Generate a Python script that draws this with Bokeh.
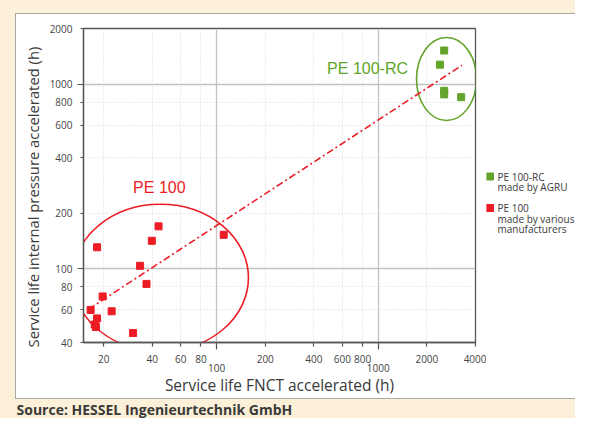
from bokeh.plotting import figure
from bokeh.layouts import column, row
from bokeh.models import (FixedTicker, LogAxis, Grid, Label, Range1d, NumeralTickFormatter)
from bokeh.core.properties import value
from bokeh.embed import file_html
from bokeh.resources import INLINE

# ---------------- data ----------------
pe100_fnct = [18.2, 43.7, 39.7, 33.6, 36.8, 19.7, 16.6, 22.4, 18.2, 17.6, 17.9, 30.4, 110.6]
pe100_pressure = [131, 170, 142, 104, 83, 71, 60, 59, 54, 50, 48.5, 45, 153]
pe100rc_fnct = [2560, 2410, 2560, 2560, 3260]
pe100rc_pressure = [1520, 1275, 920, 880, 850]
trend_fnct = [16.1, 3300]
trend_pressure = [60.5, 1265]
x_ticks = [20, 40, 60, 80, 100, 200, 400, 600, 800, 1000, 2000, 4000]
y_ticks = [40, 60, 80, 100, 200, 400, 600, 800, 1000, 2000]
major_lines = [100, 1000]
legend_lines = [["PE 100-RC", "made by AGRU"], ["PE 100", "made by various", "manufacturers"]]
source_text = "Source: HESSEL Ingenieurtechnik GmbH"

RED = "#ec1c24"
GREEN = "#62a52a"
CREAM = "#fcf1d8"
TXT = "#3a3a3a"

CH_H = 384  # chart panel height

p = figure(width=470, height=CH_H, x_axis_type="log", y_axis_type="log",
           x_range=Range1d(15, 4000), y_range=Range1d(40, 2000),
           x_axis_location=None, y_axis_location=None, title=None,
           output_backend="svg", toolbar_location=None,
           min_border_left=67, min_border_top=14, min_border_right=11, min_border_bottom=55)
p.border_fill_color = "white"
p.background_fill_color = "white"
p.outline_line_color = "#555555"
p.outline_line_width = 1.3
p.grid.visible = False

# grids
minor_x = [t for t in x_ticks if t not in major_lines and t != 4000]
minor_y = [t for t in y_ticks if t not in major_lines and t not in (40, 2000)]
p.add_layout(Grid(dimension=0, ticker=FixedTicker(ticks=minor_x), grid_line_color="#d9d9d9",
                  grid_line_dash="1 2", grid_line_width=1))
p.add_layout(Grid(dimension=1, ticker=FixedTicker(ticks=minor_y), grid_line_color="#d9d9d9",
                  grid_line_dash="1 2", grid_line_width=1))
p.add_layout(Grid(dimension=0, ticker=FixedTicker(ticks=major_lines), grid_line_color="#c2c2c2",
                  grid_line_width=1.3))
p.add_layout(Grid(dimension=1, ticker=FixedTicker(ticks=major_lines), grid_line_color="#c2c2c2",
                  grid_line_width=1.3))

# axes
fmt = NumeralTickFormatter(format="0")
yax = LogAxis(ticker=FixedTicker(ticks=y_ticks, minor_ticks=major_lines), formatter=fmt,
              axis_label="Service life internal pressure accelerated (h)" + "\u00a0" * 6)
yax.major_tick_out = 3
yax.major_tick_in = 0
yax.minor_tick_out = 6
yax.minor_tick_in = 0
yax.major_label_standoff = 5
yax.axis_label_standoff = 4
yax.axis_label_text_font_size = "14.8px"

xax1 = LogAxis(ticker=FixedTicker(ticks=[t for t in x_ticks if t not in major_lines], minor_ticks=major_lines),
               formatter=fmt)
xax1.major_tick_out = 4
xax1.major_tick_in = 0
xax1.minor_tick_out = 7
xax1.minor_tick_in = 0
xax1.major_label_standoff = 5

xax2 = LogAxis(ticker=FixedTicker(ticks=major_lines, minor_ticks=[]), formatter=fmt,
               axis_label="Service life FNCT accelerated (h)")
xax2.axis_line_color = None
xax2.major_tick_line_color = None
xax2.minor_tick_line_color = None
xax2.major_tick_out = 0
xax2.major_tick_in = 0
xax2.minor_tick_out = 0
xax2.minor_tick_in = 0
xax2.major_label_standoff = -2
xax2.axis_label_standoff = -1
xax2.axis_label_text_font_size = "15.5px"

for ax in (yax, xax1, xax2):
    ax.major_label_text_font = "Open Sans"
    ax.major_label_text_font_size = "10px"
    ax.major_label_text_color = "#444444"
    ax.axis_label_text_font = "Open Sans"
    ax.axis_label_text_font_style = "normal"
    ax.axis_label_text_color = TXT
for ax in (yax, xax1):
    ax.axis_line_color = "#555555"
    ax.axis_line_width = 1.3
    ax.major_tick_line_color = "#555555"
    ax.minor_tick_line_color = "#555555"
    ax.major_tick_line_width = 1.2
    ax.minor_tick_line_width = 1.2

p.add_layout(yax, "left")
p.add_layout(xax1, "below")
p.add_layout(xax2, "below")

# ellipses
p.ellipse(x=[44.9], y=[89.6], width=176, height=147, width_units="screen", height_units="screen",
          fill_color=None, line_color=RED, line_width=1.6)
p.ellipse(x=[2646], y=[1066], width=60, height=83, width_units="screen", height_units="screen",
          fill_color=None, line_color=GREEN, line_width=1.6)

# trend line
p.line(trend_fnct, trend_pressure, line_color=RED, line_width=1.6, line_dash="7 3 2 3")

# points
p.scatter(pe100_fnct, pe100_pressure, marker="square", size=7, color=RED)
p.scatter(pe100rc_fnct, pe100rc_pressure, marker="square", size=7, color=GREEN)

# group labels
p.add_layout(Label(x=44.2, y=275, text="PE 100", text_font="Liberation Sans", text_font_size="16px",
                   text_color=RED, text_align="center", text_baseline="middle"))
p.add_layout(Label(x=859, y=1218, text="PE 100-RC", text_font="Liberation Sans", text_font_size="16px",
                   text_color=GREEN, text_align="center", text_baseline="middle"))

# legend panel (pixel coordinates from the plot frame top, y downward)
LEG_W = 89
leg = figure(frame_width=LEG_W, frame_height=CH_H, output_backend="svg", toolbar_location=None,
             title=None, x_range=Range1d(0, LEG_W), y_range=Range1d(CH_H, 0),
             x_axis_location=None, y_axis_location=None,
             min_border=0, min_border_left=0, min_border_right=0, min_border_top=0, min_border_bottom=0)
leg.border_fill_color = "white"
leg.background_fill_color = "white"
leg.outline_line_color = None
leg.grid.visible = False
group_top = [148, 179.5]
line_step = 10.7
leg.scatter(x=[3.5, 3.5], y=group_top, marker="square", size=7, color=[GREEN, RED])
tx, ty, tt = [], [], []
for top, lines in zip(group_top, legend_lines):
    for i, s in enumerate(lines):
        tx.append(11)
        ty.append(top + i * line_step)
        tt.append(s)
leg.text(x=tx, y=ty, text=tt, text_font=value("Open Sans"), text_font_size="10px",
         text_baseline="middle", text_color=TXT)

# source strip
SRC_H = 19
src = figure(width=575, height=SRC_H, output_backend="svg", toolbar_location=None, title=None,
             x_range=Range1d(0, 575), y_range=Range1d(0, SRC_H),
             x_axis_location=None, y_axis_location=None, min_border=0)
src.border_fill_color = CREAM
src.background_fill_color = CREAM
src.outline_line_color = None
src.grid.visible = False
src.text(x=[16], y=[0], text=[source_text], text_font=value("Open Sans"), text_font_size="14px",
         text_font_style="bold", text_color=TXT, text_baseline="bottom")

inner = row(p, leg, margin=(1, 0, 1, 1), styles={"background-color": "white"})
boxed = column(inner, styles={"background-color": "#a8a8a8"}, margin=(13, 0, 0, 15))
page = column(boxed, src, styles={"background-color": CREAM})

open("out.html", "w").write(file_html(page, INLINE))
